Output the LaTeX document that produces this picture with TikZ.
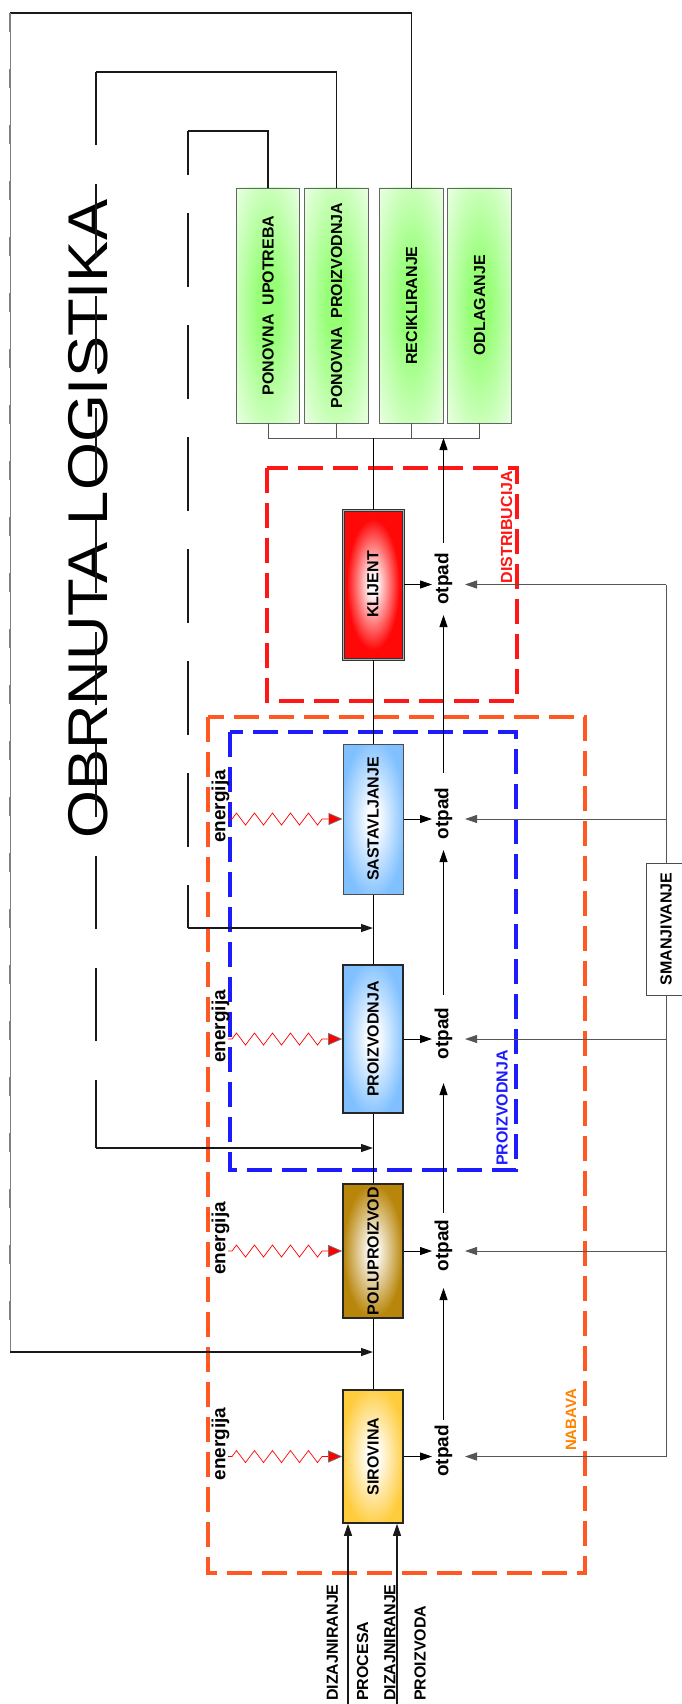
\documentclass[tikz,border=0pt]{standalone}
\usepackage{fontspec}
\setmainfont{Liberation Sans}
\usetikzlibrary{arrows.meta,decorations.pathmorphing}
\definecolor{regRed}{RGB}{255,22,22}
\definecolor{regBlue}{RGB}{28,28,255}
\definecolor{regOrange}{RGB}{255,88,34}
\definecolor{txtOrange}{RGB}{255,130,0}
\definecolor{cRed}{RGB}{255,8,8}
\definecolor{cBlue}{RGB}{128,192,255}
\definecolor{cBrown}{RGB}{184,134,11}
\definecolor{cYellow}{RGB}{255,204,60}
\definecolor{cGreen}{RGB}{150,255,118}
\definecolor{cGreenEdge}{RGB}{242,255,238}
\definecolor{lineGray}{RGB}{85,85,85}
\pgfdeclareradialshading{shKl}{\pgfpoint{0bp}{0bp}}{color(0bp)=(white); color(3bp)=(white); color(22bp)=(cRed); color(50bp)=(cRed)}
\pgfdeclareradialshading{shBl}{\pgfpoint{0bp}{0bp}}{color(0bp)=(white); color(4bp)=(white); color(27bp)=(cBlue); color(50bp)=(cBlue)}
\pgfdeclareradialshading{shBr}{\pgfpoint{0bp}{0bp}}{color(0bp)=(white); color(3bp)=(white); color(25bp)=(cBrown); color(50bp)=(cBrown)}
\pgfdeclareradialshading{shYe}{\pgfpoint{0bp}{0bp}}{color(0bp)=(white); color(4bp)=(white); color(27bp)=(cYellow); color(50bp)=(cYellow)}
\pgfdeclareradialshading{shGr}{\pgfpoint{0bp}{0bp}}{color(0bp)=(cGreen); color(8bp)=(cGreen); color(38bp)=(cGreenEdge); color(50bp)=(cGreenEdge)}
\tikzset{
  pbox/.style={rotate=90, minimum height=60pt, inner sep=0pt, line width=1.6pt, draw=black!85, shade, font=\bfseries\fontsize{16}{18}\selectfont},
  gbox/.style={rotate=90, minimum width=235pt, minimum height=63.5pt, inner sep=0pt, line width=0.9pt, draw=black!60, shade, shading=shGr, font=\bfseries\fontsize{16}{18}\selectfont},
  otp/.style={rotate=90, inner sep=0pt, font=\bfseries\fontsize{19}{22}\selectfont},
  enl/.style={rotate=90, inner sep=0pt, font=\bfseries\fontsize{19}{22}\selectfont},
  reglbl/.style={rotate=90, inner sep=0pt, font=\bfseries\fontsize{16}{18}\selectfont},
  botlbl/.style={rotate=90, anchor=west, inner sep=0pt, font=\bfseries\fontsize{16}{18}\selectfont},
  tipA/.style={-{Triangle[length=12pt,width=8pt]}},
  flow/.style={line width=0.9pt, draw=black},
  side/.style={line width=0.9pt, draw=lineGray},
  fb/.style={line width=1.3pt, draw=black!90},
  zig/.style={draw=red, line width=0.7pt, decorate, decoration={zigzag, segment length=18pt, amplitude=6pt, pre length=4pt, post length=18pt}, -{Triangle[length=14pt,width=12pt,fill=red,color=black!55,line width=0.7pt]}},
  regR/.style={draw=regRed, line width=3.8pt, dash pattern=on 25pt off 10pt},
  regB/.style={draw=regBlue, line width=3.5pt, dash pattern=on 25pt off 10pt},
  regO/.style={draw=regOrange, line width=3.3pt, dash pattern=on 25pt off 10pt},
}
\begin{document}
\begin{tikzpicture}[x=1pt,y=-1pt]
\fill[white] (0,0) rectangle (681,1704);
\useasboundingbox (0,0) rectangle (681,1704);

% regions
\draw[regO] (208,717) rectangle (585,1573);
\draw[regB] (230,732) rectangle (516,1170);
\draw[regR] (267,468) rectangle (517,701);
\node[reglbl, text=regRed] (lD) at (506.5,527) {DISTRIBUCIJA};
\node[reglbl, text=regBlue] (lP) at (502,1108) {PROIZVODNJA};
\node[reglbl, text=txtOrange, font=\bfseries\fontsize{15}{17}\selectfont] (lN) at (571,1420) {NABAVA};

% coordinates
\coordinate (c1) at (268,438);
\coordinate (c2) at (336.5,438);
\coordinate (c3) at (411.5,438);
\coordinate (c4) at (479.5,438);
\coordinate (cM) at (373,438);
\coordinate (cO) at (443.5,438);
\coordinate (iA) at (268,131);
\coordinate (iB) at (188,131);
\coordinate (iC) at (188,928);
\coordinate (mI) at (373,928);
\coordinate (mA) at (336.5,72);
\coordinate (mB) at (96,72);
\coordinate (mC) at (96,1148);
\coordinate (mM) at (373,1148);
\coordinate (qA) at (411.5,13);
\coordinate (qB) at (10,13);
\coordinate (qC) at (10,1352);
\coordinate (mO) at (373,1352);
\coordinate (sK) at (666,584.5);
\coordinate (sS) at (666,819);
\coordinate (sP) at (666,1039);
\coordinate (sPo) at (666,1251);
\coordinate (sSi) at (666,1456.5);
\coordinate (zS) at (228,819);
\coordinate (zP) at (228,1039);
\coordinate (zPo) at (228,1251);
\coordinate (zSi) at (228,1456.5);
\coordinate (b1) at (348,1704);
\coordinate (b2) at (397,1704);

% green boxes
\node[gbox] (G1) at (268,305.5) {PONOVNA\ \ UPOTREBA};
\node[gbox] (G2) at (336.5,305.5) {PONOVNA\ \ PROIZVODNJA};
\node[gbox] (G3) at (411.5,305.5) {RECIKLIRANJE};
\node[gbox] (G4) at (479.5,305.5) {ODLAGANJE};

% process boxes
\node[pbox, minimum width=149pt, shading=shKl, draw=black!80, line width=1pt, double=black!30, double distance=1pt] (KL) at (373,584.5) {KLIJENT};
\node[pbox, minimum width=150pt, shading=shBl, line width=1pt, draw=black!70] (SAST) at (373,819) {SASTAVLJANJE};
\node[pbox, minimum width=148pt, shading=shBl] (PRZ) at (373,1039) {PROIZVODNJA};
\node[pbox, minimum width=134pt, shading=shBr] (POL) at (373,1251) {POLUPROIZVOD};
\node[pbox, minimum width=133pt, shading=shYe] (SIR) at (373,1456.5) {SIROVINA};

% otpad
\node[otp] (oKL) at (443.5,579) {otpad};
\node[otp] (oSAST) at (443.5,813.5) {otpad};
\node[otp] (oPRZ) at (443.5,1033.5) {otpad};
\node[otp] (oPOL) at (443.5,1245.5) {otpad};
\node[otp] (oSIR) at (443.5,1451) {otpad};

% energija
\node[enl] (eS) at (220.5,806.5) {energija};
\node[enl] (eP) at (220.5,1026.5) {energija};
\node[enl] (ePo) at (220.5,1238.5) {energija};
\node[enl] (eSi) at (220.5,1444) {energija};

% SMANJIVANJE
\node[rotate=90, draw=black!70, fill=white, line width=0.8pt, minimum width=132pt, minimum height=40pt, inner sep=0pt, font=\bfseries\fontsize{16}{18}\selectfont] (SM) at (666,929) {SMANJIVANJE};
\draw[side] (sK) -- (SM) -- (sSi);

% title
\node[rotate=90, anchor=base west, inner sep=0pt, font=\fontsize{56}{60}\selectfont] (title) at (107,839) {\scalebox{1.1}[1]{OBRNUTA LOGISTIKA}};

% comb
\draw[side] (G1) -- (c1);
\draw[side] (G2) -- (c2);
\draw[side] (G3) -- (c3);
\draw[side] (G4) -- (c4);
\draw[side] (c1) -- (c4);

% main flow
\draw[flow] (cM) -- (KL);
\draw[flow] (KL) -- (SAST);
\draw[flow] (SAST) -- (PRZ);
\draw[flow] (PRZ) -- (POL);
\draw[flow] (POL) -- (SIR);

% loops
\draw[fb] (G1) -- (iA) -- (iB);
\draw[fb, dash pattern=on 74pt off 38pt, dash phase=30pt] (iB) -- (iC);
\draw[fb, tipA] (iC) -- (mI);
\draw[fb] (G2) -- (mA) -- (mB);
\draw[fb, dash pattern=on 73pt off 39pt] (mB) -- (mC);
\draw[fb, tipA] (mC) -- (mM);
\draw[fb] (G3) -- (qA) -- (qB);
\draw[draw=gray, line width=1pt] (qB) -- (qC);
\draw[draw=gray, line width=2.4pt, dash pattern=on 19pt off 37pt] (qB) -- (qC);
\draw[fb, tipA] (qC) -- (mO);

% box -> otpad
\draw[flow, tipA, shorten >=11.5pt] (KL) -- (KL -| oKL);
\draw[flow, tipA, shorten >=11.5pt] (SAST) -- (SAST -| oSAST);
\draw[flow, tipA, shorten >=11.5pt] (PRZ) -- (PRZ -| oPRZ);
\draw[flow, tipA, shorten >=11.5pt] (POL) -- (POL -| oPOL);
\draw[flow, tipA, shorten >=11.5pt] (SIR) -- (SIR -| oSIR);

% smanjivanje -> otpad
\draw[side, tipA, shorten >=21.5pt] (sK) -- (sK -| oKL);
\draw[side, tipA, shorten >=21.5pt] (sS) -- (sS -| oSAST);
\draw[side, tipA, shorten >=21.5pt] (sP) -- (sP -| oPRZ);
\draw[side, tipA, shorten >=21.5pt] (sPo) -- (sPo -| oPOL);
\draw[side, tipA, shorten >=21.5pt] (sSi) -- (sSi -| oSIR);

% otpad chain
\draw[flow, tipA, shorten <=5pt, shorten >=16.5pt] (oSIR) -- (oPOL);
\draw[flow, tipA, shorten <=6.5pt, shorten >=23.5pt] (oPOL) -- (oPRZ);
\draw[flow, tipA, shorten <=12.5pt, shorten >=10.5pt] (oPRZ) -- (oSAST);
\draw[flow, tipA, shorten <=14.5pt, shorten >=10pt] (oSAST) -- (oKL);
\draw[flow, tipA, shorten <=10pt] (oKL) -- (cO);

% energy
\draw[zig] (zS) -- (SAST);
\draw[zig] (zP) -- (PRZ);
\draw[zig] (zPo) -- (POL);
\draw[zig] (zSi) -- (SIR);

% bottom inputs
\draw[fb, tipA] (b1) -- (b1 |- SIR.west);
\draw[fb, tipA] (b2) -- (b2 |- SIR.west);
\node[botlbl] (bl1) at (332.5,1701) {DIZAJNIRANJE};
\node[botlbl] (bl2) at (362.5,1701) {PROCESA};
\node[botlbl] (bl3) at (390,1701) {DIZAJNIRANJE};
\node[botlbl] (bl4) at (420,1701) {PROIZVODA};
\end{tikzpicture}
\end{document}
